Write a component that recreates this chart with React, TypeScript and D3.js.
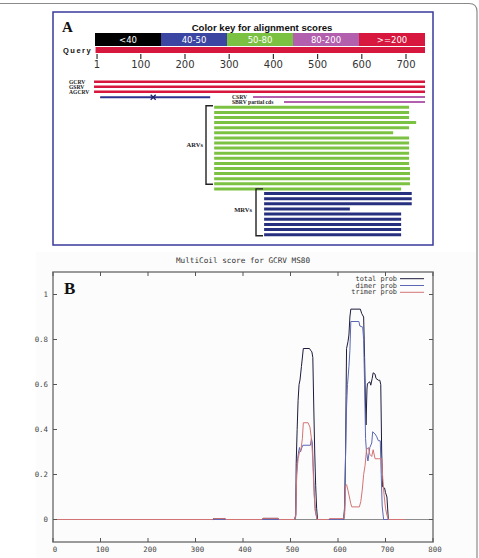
import React from 'react';
import * as d3 from 'd3';

// ---- panel A : alignment overview
const keyLabels = ['<40', '40-50', '50-80', '80-200', '>=200'];
const keyColors = ['#000000', '#3b46a3', '#7cc242', '#b25fae', '#d7173d'];
const queryLength = 743;
const alignTicks = [1, 100, 200, 300, 400, 500, 600, 700];
const topHitNames = ['GCRV', 'GSRV', 'AGCRV'];
const topHitRanges: [number, number][] = [[1, 743], [1, 743], [1, 743]];
const lowHitRange: [number, number] = [8, 257];
const lowHitGapAt = 128;
const partialHitNames = ['CSRV', 'SBRV partial cds'];
const partialHitRanges: [number, number][] = [[354, 743], [424, 743]];
const arvStart = 266;
const arvEnds = [707, 707, 707, 723, 707, 671, 707, 707, 707, 707, 707, 707, 709, 709, 709, 709, 689];
const mrvStart = 379;
const mrvEnds = [713, 713, 713, 573, 689, 689, 689, 689, 689];

// ---- panel B : MultiCoil score
const xTicksB = [0, 100, 200, 300, 400, 500, 600, 700, 800];
const yTicksB = [0, 0.2, 0.4, 0.6, 0.8, 1];
const seriesNames = ['total prob', 'dimer prob', 'trimer prob'];
const totalProb: [number, number][] = [
  [1, 0], [336, 0], [338, 0.004], [362, 0.004], [364, 0], [440, 0], [442, 0.005], [474, 0.005], [476, 0],
  [509, 0], [511, 0.02], [512, 0.25], [514, 0.4], [516, 0.53], [518, 0.6], [520, 0.62], [523, 0.68], [526, 0.74],
  [527, 0.76], [540, 0.76], [543, 0.75], [545, 0.745], [547, 0.72], [549, 0.5], [551, 0.3], [553, 0.15], [555, 0.05], [557, 0],
  [612, 0], [614, 0.06], [616, 0.3], [617, 0.55], [618, 0.76], [621, 0.79], [623, 0.82], [625, 0.9], [627, 0.935],
  [647, 0.935], [650, 0.915], [654, 0.9], [656, 0.72], [658, 0.5], [659, 0.42], [661, 0.58], [662, 0.604], [667, 0.612],
  [669, 0.597], [672, 0.627], [674, 0.652], [678, 0.646], [680, 0.627], [685, 0.619], [688, 0.619], [690, 0.6],
  [692, 0.3], [694, 0.145], [698, 0.14], [700, 0.12], [703, 0.1], [706, 0], [741, 0],
];
const dimerProb: [number, number][] = [
  [1, 0], [509, 0], [511, 0.02], [513, 0.2], [515, 0.27], [517, 0.3], [519, 0.32], [521, 0.3], [524, 0.32], [526, 0.33],
  [542, 0.33], [544, 0.36], [546, 0.34], [548, 0.23], [550, 0.12], [552, 0.04], [556, 0],
  [612, 0], [614, 0.04], [616, 0.3], [618, 0.5], [620, 0.6], [623, 0.68], [625, 0.75], [627, 0.88], [644, 0.88],
  [646, 0.86], [652, 0.855], [654, 0.8], [656, 0.6], [658, 0.36], [660, 0.3], [663, 0.26], [667, 0.32], [671, 0.34],
  [673, 0.39], [678, 0.38], [681, 0.37], [685, 0.35], [689, 0.35], [691, 0.2], [693, 0.06], [696, 0], [741, 0],
];
const trimerProb: [number, number][] = [
  [1, 0], [336, 0], [338, 0.004], [362, 0.004], [364, 0], [440, 0], [442, 0.005], [474, 0.005], [476, 0],
  [509, 0], [511, 0.01], [513, 0.2], [516, 0.27], [519, 0.3], [522, 0.31], [525, 0.36], [527, 0.43], [537, 0.43],
  [541, 0.41], [544, 0.36], [546, 0.3], [548, 0.2], [550, 0.1], [553, 0.03], [556, 0],
  [580, 0], [582, 0.004], [612, 0.004], [614, 0.02], [616, 0.15], [618, 0.155], [621, 0.13], [624, 0.1], [627, 0.07],
  [629, 0.056], [645, 0.056], [648, 0.08], [651, 0.13], [654, 0.2], [657, 0.24], [660, 0.31], [664, 0.32],
  [667, 0.29], [671, 0.28], [674, 0.31], [678, 0.27], [685, 0.27], [692, 0.27], [694, 0.19], [697, 0.11],
  [700, 0.05], [703, 0.02], [706, 0], [741, 0],
];
const seriesData = [totalProb, dimerProb, trimerProb];
const seriesColors = ['#1c1c3c', '#5b67b5', '#d27474'];

const mono = '"DejaVu Sans Mono", monospace';
const serif = '"Liberation Serif", "DejaVu Serif", serif';
const sans = '"Liberation Sans", Arial, sans-serif';

export default function App() {
  // panel A scales
  const xA = d3.scaleLinear().domain([0, queryLength]).range([96.6, 425]);
  const keyBand = d3.scaleBand<string>().domain(keyLabels).range([95, 425]);
  const topY = d3.scaleLinear().domain([0, 1]).range([81.7, 86.7]);
  const arvY = d3.scaleLinear().domain([0, 1]).range([107.3, 112.4]);
  const mrvY = d3.scaleLinear().domain([0, 1]).range([193.5, 198.65]);

  // panel B scales
  const xB = d3.scaleLinear().domain([0, 800]).range([53, 433]);
  const yB = d3.scaleLinear().domain([-0.1, 1.1]).range([542, 272]);
  const line = d3.line<[number, number]>().x(d => xB(d[0])).y(d => yB(d[1]));
  const fmtY = (v: number) => (v === 0 ? '0' : v === 1 ? '1' : v.toFixed(1));

  const lowY = 97.3;
  const gx = xA(lowHitGapAt);

  return (
    <svg width={479} height={558} style={{ position: 'absolute', left: 0, top: 0, background: '#fff' }}>
      {/* outer frame */}
      <path d="M0,3.5 H469 Q477,3.5 477,11.5 V558" fill="none" stroke="#8a8a8a" strokeWidth={1.2} />

      {/* ===== Panel A ===== */}
      <rect x={53} y={12} width={380} height={233} fill="#fff" stroke="#3a3a9c" strokeWidth={1.5} />
      <text x={62} y={32} fontFamily={serif} fontWeight="bold" fontSize={15} fill="#111">A</text>
      <text x={262} y={30.5} textAnchor="middle" fontFamily={sans} fontWeight="bold" fontSize={9.6} fill="#111">
        Color key for alignment scores
      </text>
      {keyLabels.map((k, i) => (
        <g key={k}>
          <rect x={keyBand(k)} y={33} width={keyBand.bandwidth()} height={13} fill={keyColors[i]} />
          <text x={(keyBand(k) as number) + keyBand.bandwidth() / 2} y={43} textAnchor="middle"
            fontFamily='"DejaVu Sans", sans-serif' fontSize={8.5} fill="#fff">{k}</text>
        </g>
      ))}
      <text x={63} y={52.5} fontFamily={sans} fontWeight="bold" fontSize={7.5} letterSpacing={1.5} fill="#111">Query</text>
      <rect x={xA(1) - 1.5} y={47} width={xA(queryLength) - xA(1) + 1.5} height={6} fill="#d7173d" />
      {alignTicks.map(t => (
        <g key={t}>
          <line x1={xA(t)} x2={xA(t)} y1={54} y2={59} stroke="#333" strokeWidth={1.2} />
          <text x={xA(t)} y={68} textAnchor="middle" fontFamily='"DejaVu Sans", sans-serif' fontSize={10} fill="#333">{t}</text>
        </g>
      ))}

      {topHitNames.map((n, i) => (
        <g key={n}>
          <text x={69} y={topY(i) + 1.8} fontFamily={serif} fontWeight="bold" fontSize={5.6} fill="#222">{n}</text>
          <line x1={xA(topHitRanges[i][0]) - 3} x2={xA(topHitRanges[i][1])} y1={topY(i)} y2={topY(i)}
            stroke="#d7173d" strokeWidth={2.4} />
        </g>
      ))}
      <line x1={xA(lowHitRange[0])} x2={xA(lowHitRange[1])} y1={lowY} y2={lowY} stroke="#2b3590" strokeWidth={2} />
      <path d={`M${gx - 2.5},${lowY - 2.5} L${gx + 2.5},${lowY + 2.5} M${gx + 2.5},${lowY - 2.5} L${gx - 2.5},${lowY + 2.5}`}
        stroke="#1d2366" strokeWidth={1.3} />

      {partialHitNames.map((n, i) => (
        <g key={n}>
          <line x1={xA(partialHitRanges[i][0])} x2={xA(partialHitRanges[i][1])} y1={97 + i * 5} y2={97 + i * 5}
            stroke="#b25fae" strokeWidth={2.2} />
          <text x={232} y={99 + i * 5} fontFamily={serif} fontWeight="bold" fontSize={5.6} fill="#222">{n}</text>
        </g>
      ))}

      {arvEnds.map((e, i) => (
        <line key={'a' + i} x1={xA(arvStart)} x2={xA(e)} y1={arvY(i)} y2={arvY(i)} stroke="#7cc242" strokeWidth={3} />
      ))}
      {mrvEnds.map((e, i) => (
        <line key={'m' + i} x1={xA(mrvStart)} x2={xA(e)} y1={mrvY(i)} y2={mrvY(i)} stroke="#27307f" strokeWidth={3} />
      ))}
      <path d={`M213,${arvY(0) - 1.5} H206 V${arvY(15) + 0.5} H213`} fill="none" stroke="#222" strokeWidth={1.4} />
      <text x={203} y={147} textAnchor="end" fontFamily={serif} fontWeight="bold" fontSize={6.5} fill="#222">ARVs</text>
      <path d={`M263,${arvY(16)} H256 V${mrvY(8) + 1} H263`} fill="none" stroke="#222" strokeWidth={1.4} />
      <text x={252} y={212} textAnchor="end" fontFamily={serif} fontWeight="bold" fontSize={6.5} fill="#222">MRVs</text>

      {/* ===== Panel B ===== */}
      <rect x={36} y={252} width={440} height={306} fill="#fcfcfc" />
      <text x={243} y={263} textAnchor="middle" fontFamily={mono} fontSize={7.7} fill="#333">MultiCoil score for GCRV MS80</text>
      <line x1={xB(0)} x2={xB(800)} y1={yB(0)} y2={yB(0)} stroke="#8c8c8c" strokeWidth={1} />
      {seriesData.map((s, i) => (
        <path key={seriesNames[i]} d={line(s) as string} fill="none" stroke={seriesColors[i]} strokeWidth={1} />
      ))}
      <rect x={53} y={272} width={380} height={270} fill="none" stroke="#7a7a7a" strokeWidth={1.5} />
      {xTicksB.map(t => (
        <g key={'x' + t}>
          <line x1={xB(t)} x2={xB(t)} y1={542} y2={538} stroke="#555" />
          <line x1={xB(t)} x2={xB(t)} y1={272} y2={276} stroke="#555" />
          <text x={xB(t) + 2} y={551.5} textAnchor="middle" fontFamily={mono} fontSize={7.4} fill="#444">{t}</text>
        </g>
      ))}
      {yTicksB.map(t => (
        <g key={'y' + t}>
          <line x1={53} x2={57} y1={yB(t)} y2={yB(t)} stroke="#555" />
          <line x1={433} x2={429} y1={yB(t)} y2={yB(t)} stroke="#555" />
          <text x={48} y={yB(t) + 2.5} textAnchor="end" fontFamily={mono} fontSize={7.4} fill="#444">{fmtY(t)}</text>
        </g>
      ))}
      <text x={64} y={294} fontFamily={serif} fontWeight="bold" fontSize={17} fill="#111">B</text>
      {seriesNames.map((n, i) => (
        <g key={'l' + n}>
          <text x={397} y={280.8 + i * 6.8} textAnchor="end" fontFamily={mono} fontSize={6.9} fill="#333">{n}</text>
          <line x1={400} x2={424} y1={278.7 + i * 6.8} y2={278.7 + i * 6.8} stroke={seriesColors[i]} strokeWidth={1} />
        </g>
      ))}
    </svg>
  );
}
